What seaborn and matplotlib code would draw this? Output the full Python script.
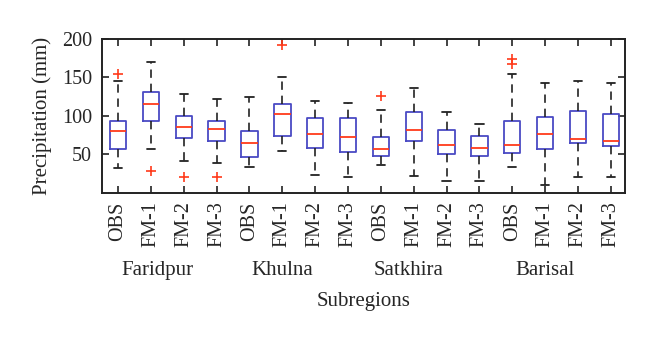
import numpy as np
import pandas as pd
import matplotlib
matplotlib.use("Agg")
import matplotlib.pyplot as plt
import seaborn as sns

# ---- data ----
regions = ["Faridpur", "Khulna", "Satkhira", "Barisal"]
models = ["OBS", "FM-1", "FM-2", "FM-3"]

whisker_low = [32, 57, 41, 39,   34, 54, 23, 21,   37, 22, 16, 15,   34, 10, 21, 21]
q1          = [57, 94, 71, 68,   47, 74, 59, 53,   48, 67, 51, 48,   52, 57, 65, 61]
median      = [81, 116, 86, 83,  65, 103, 76, 73,  57, 82, 62, 59,   62, 76, 70, 68]
q3          = [93, 131, 100, 94, 81, 116, 98, 97,  73, 105, 82, 74,  93, 99, 107, 103]
whisker_high= [146, 170, 128, 122, 125, 151, 120, 117, 108, 137, 105, 89, 154, 143, 146, 143]
outliers = {
    0: [155],
    1: [29],
    2: [21],
    3: [21],
    5: [192],
    8: [126],
    12: [167, 174],
}
group_label_pos = [1.2, 5.0, 8.85, 13.0]

# ---- build tables ----
keys = [f"{r}|{m}" for r in regions for m in models]
tick_labels = [m for r in regions for m in models]
rows = []
for i, k in enumerate(keys):
    for v in (whisker_low[i], q1[i], median[i], q3[i], whisker_high[i]):
        rows.append({"box": k, "value": v})
df = pd.DataFrame(rows)
orow = []
for i, vals in outliers.items():
    for v in vals:
        orow.append({"box": keys[i], "value": v})
dfo = pd.DataFrame(orow)

sns.set_style("ticks")
plt.rcParams["font.family"] = ["Liberation Serif", "DejaVu Serif"]

fig = plt.figure(figsize=(6.6, 3.46), dpi=100)
ax = fig.add_axes([0.1545, 0.4422, 0.7924, 0.4451])

box_color = "#4a4ac4"
sns.boxplot(data=df, x="box", y="value", order=keys, ax=ax, whis=(0, 100),
            fill=False, width=0.5, showfliers=False, color=box_color,
            boxprops=dict(color=box_color, linewidth=1.3),
            medianprops=dict(color="#ff3a1a", linewidth=1.3),
            whiskerprops=dict(color="#222222", linestyle=(0, (5, 3.5)), linewidth=1.2),
            capprops=dict(color="#222222", linewidth=1.3))
sns.stripplot(data=dfo, x="box", y="value", order=keys, ax=ax, jitter=False,
              marker="+", color="#ff3a1a", size=7, linewidth=1.2)

ax.set_ylim(0, 200)
ax.set_xlim(-0.49, 15.43)
ax.set_yticks([50, 100, 150, 200])
ax.set_xticks(range(len(keys)))
ax.set_xticklabels(tick_labels, rotation=90, fontsize=14.5)
ax.tick_params(axis="y", labelsize=14.5, pad=7)
ax.tick_params(direction="in", top=True, right=True, length=5, width=1.2, color="#222222")
ax.tick_params(axis="x", pad=6)
for s in ax.spines.values():
    s.set_visible(True)
    s.set_linewidth(1.4)
    s.set_color("#222222")
ax.set_xlabel("")
ax.set_ylabel("Precipitation (mm)", fontsize=15, labelpad=7)

for r, xp in zip(regions, group_label_pos):
    ax.text(xp, -0.5, r, transform=ax.get_xaxis_transform(), ha="center",
            va="center", fontsize=15)
ax.text(0.5, -0.705, "Subregions", transform=ax.transAxes, ha="center",
        va="center", fontsize=15)

fig.savefig("out.png", dpi=100, facecolor="white")
